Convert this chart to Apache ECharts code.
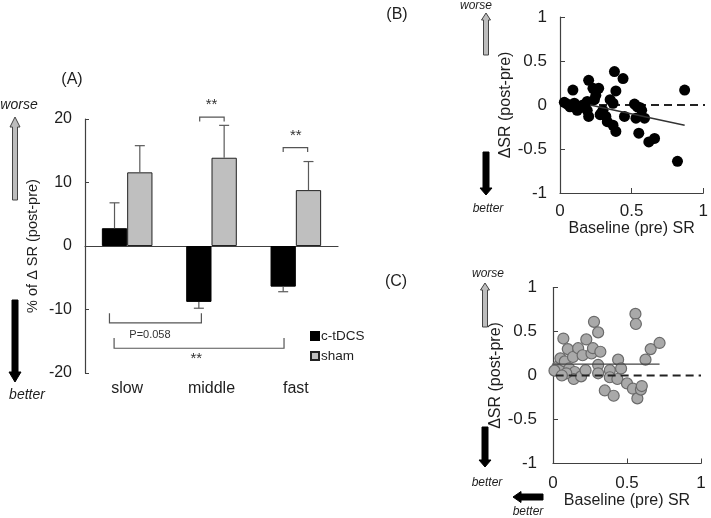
<!DOCTYPE html>
<html>
<head>
<meta charset="utf-8">
<script src="https://cdn.jsdelivr.net/npm/echarts@6/dist/echarts.min.js"></script>
<style>
  html, body { margin: 0; padding: 0; background: #fff; }
  #chart { width: 711px; height: 518px; }
</style>
</head>
<body>
<div id="chart"></div>
<script>
// Panel A: mean % change of SR per speed, c-tDCS vs sham
const categories = ['slow', 'middle', 'fast'];
const ctdcsMeans = [2.8, -8.8, -6.4];
const shamMeans = [11.6, 13.9, 8.8];
const ctdcsErrEnds = [6.8, -9.8, -7.2];
const shamErrEnds = [15.8, 19.0, 13.3];
const yTicksA = [-20, -10, 0, 10, 20];

// significance brackets (x in category units, y in axis values)
const brackets = [
  { from: 0.86, to: 1.15, tip: 19.6, level: 20.3, text: '**', textX: 1.0, textY: 22.2, size: 15 },
  { from: 1.85, to: 2.14, tip: 14.8, level: 15.5, text: '**', textX: 2.0, textY: 17.4, size: 15 },
  { from: -0.21, to: 0.88, tip: -10.6, level: -12.1, text: 'P=0.058', textX: 0.27, textY: -14.0, size: 11 },
  { from: -0.155, to: 1.86, tip: -14.5, level: -16.1, text: '**', textX: 0.82, textY: -17.8, size: 15 }
];

// Panel B: c-tDCS, baseline SR vs change
const bPoints = [
  [0.03, 0.03], [0.07, -0.02], [0.10, 0.02], [0.09, 0.17], [0.12, -0.06], [0.16, 0.0],
  [0.19, 0.04], [0.19, -0.06], [0.20, -0.13], [0.20, 0.28], [0.23, 0.19], [0.24, 0.06],
  [0.25, 0.11], [0.27, 0.19], [0.28, -0.11], [0.30, -0.06], [0.32, -0.13], [0.33, -0.19],
  [0.35, 0.06], [0.37, 0.02], [0.38, 0.38], [0.39, 0.16], [0.37, -0.23], [0.39, -0.30],
  [0.44, 0.30], [0.45, -0.13], [0.52, 0.01], [0.54, -0.02], [0.53, -0.15], [0.57, -0.06],
  [0.59, -0.15], [0.55, -0.32], [0.62, -0.42], [0.66, -0.38], [0.87, 0.17], [0.82, -0.64],
  [0.56, -0.03], [0.05, 0.01], [0.14, -0.03], [0.29, -0.09]
];
const bFit = [[0.21, 0.0], [0.87, -0.23]];
const bZero = [[0.0, 0], [1.02, 0]];

// Panel C: sham, baseline SR vs change
const cPoints = [
  [0.07, 0.42], [0.03, 0.10], [0.05, 0.195], [0.045, 0.06], [0.08, 0.16], [0.10, 0.30],
  [0.11, 0.08], [0.135, 0.21], [0.147, 0.04], [0.14, -0.04], [0.17, 0.31], [0.19, -0.01],
  [0.20, 0.23], [0.22, 0.06], [0.225, 0.41], [0.26, 0.25], [0.27, 0.31], [0.277, 0.61],
  [0.305, 0.49], [0.32, 0.27], [0.305, 0.12], [0.305, 0.025], [0.35, -0.17], [0.384, 0.06],
  [0.384, -0.02], [0.41, -0.23], [0.435, -0.04], [0.44, 0.18], [0.46, 0.08], [0.50, -0.09],
  [0.54, -0.15], [0.557, 0.70], [0.56, 0.585], [0.57, -0.26], [0.594, -0.16], [0.60, -0.12],
  [0.625, 0.18], [0.66, 0.30], [0.72, 0.37], [0.01, 0.055], [0.09, 0.025], [0.06, 0.0]
];
const cFit = [[0.0, 0.13], [0.72, 0.13]];
const cZero = [[-0.07, 0], [1.0, 0]];

const FONT = 'Liberation Sans';
const axisColor = '#404040';
const textColor = '#1e1e1e';

const chart = echarts.init(document.getElementById('chart'), null, { renderer: 'canvas' });

// flechas de "worse"/"better"
function vArrow(cx, tip, end, shaftW, headW, headH, fill, stroke) {
  const dir = end > tip ? 1 : -1;
  const base = tip + dir * headH;
  return {
    type: 'polygon',
    shape: { points: [
      [cx, tip], [cx + headW / 2, base], [cx + shaftW / 2, base], [cx + shaftW / 2, end],
      [cx - shaftW / 2, end], [cx - shaftW / 2, base], [cx - headW / 2, base]
    ] },
    style: { fill: fill, stroke: stroke, lineWidth: 1 }
  };
}
function hArrow(cy, tip, end, shaftH, headH, headW, fill) {
  const base = tip + headW;
  return {
    type: 'polygon',
    shape: { points: [
      [tip, cy], [base, cy - headH / 2], [base, cy - shaftH / 2], [end, cy - shaftH / 2],
      [end, cy + shaftH / 2], [base, cy + shaftH / 2], [base, cy + headH / 2]
    ] },
    style: { fill: fill, stroke: fill, lineWidth: 1 }
  };
}
function label(x, y, text, size, italic, align) {
  return {
    type: 'text', x: x, y: y,
    style: {
      text: text, fill: textColor, fontSize: size, fontFamily: FONT,
      fontStyle: italic ? 'italic' : 'normal', align: align || 'center', verticalAlign: 'middle'
    }
  };
}

const valueAxisStyle = {
  axisLine: { show: true, onZero: false, lineStyle: { color: axisColor, width: 1.2 } },
  axisTick: { show: true, inside: true, length: 5, lineStyle: { color: axisColor } },
  splitLine: { show: false },
  axisLabel: { color: textColor, fontSize: 17, fontFamily: FONT }
};

const option = {
  animation: false,
  backgroundColor: '#fff',
  grid: [
    { left: 85, top: 119, width: 253, height: 254 },
    { left: 560, top: 17, width: 148, height: 176 },
    { left: 553, top: 287.5, width: 148, height: 176 }
  ],
  legend: {
    left: 305, top: 324, orient: 'vertical', itemWidth: 8, itemHeight: 8, itemGap: 6,
    icon: 'rect',
    data: ['c-tDCS', 'sham'],
    textStyle: { color: textColor, fontSize: 13.5, fontFamily: FONT, padding: [0, 0, 0, -3] }
  },
  xAxis: [
    {
      gridIndex: 0, type: 'category', data: categories,
      axisLine: { onZero: true, lineStyle: { color: axisColor, width: 1.2 } },
      axisTick: { length: 4, lineStyle: { color: axisColor } },
      axisLabel: { show: false }
    },
    {
      gridIndex: 0, type: 'category', data: categories, position: 'bottom',
      axisLine: { show: false, onZero: false }, axisTick: { show: false },
      axisLabel: { margin: 8, color: textColor, fontSize: 16, fontFamily: FONT }
    },
    Object.assign({
      gridIndex: 1, type: 'value', min: 0, max: 1, interval: 0.5,
      name: 'Baseline (pre) SR', nameLocation: 'middle', nameGap: 19,
      nameTextStyle: { color: textColor, fontSize: 16, fontFamily: FONT }
    }, valueAxisStyle, { axisLabel: { margin: 10, color: textColor, fontSize: 17, fontFamily: FONT } }),
    Object.assign({
      gridIndex: 2, type: 'value', min: 0, max: 1, interval: 0.5,
      name: 'Baseline (pre) SR', nameLocation: 'middle', nameGap: 25,
      nameTextStyle: { color: textColor, fontSize: 16, fontFamily: FONT }
    }, valueAxisStyle, { axisLabel: { margin: 11, color: textColor, fontSize: 17, fontFamily: FONT } })
  ],
  yAxis: [
    {
      gridIndex: 0, type: 'value', min: yTicksA[0], max: yTicksA[yTicksA.length - 1], interval: 10,
      name: '% of Δ SR (post-pre)', nameLocation: 'middle', nameGap: 45,
      nameTextStyle: { color: textColor, fontSize: 14.5, fontFamily: FONT },
      axisLine: { show: true, lineStyle: { color: axisColor, width: 1.2 } },
      axisTick: { show: true, inside: true, length: 4, lineStyle: { color: axisColor } },
      splitLine: { show: false },
      axisLabel: { margin: 13, color: textColor, fontSize: 16, fontFamily: FONT }
    },
    Object.assign({
      gridIndex: 1, type: 'value', min: -1, max: 1, interval: 0.5,
      name: 'ΔSR (post-pre)', nameLocation: 'middle', nameGap: 31,
      nameTextStyle: { color: textColor, fontSize: 16, fontFamily: FONT }
    }, valueAxisStyle, { axisLabel: { margin: 13, color: textColor, fontSize: 17, fontFamily: FONT } }),
    Object.assign({
      gridIndex: 2, type: 'value', min: -1, max: 1, interval: 0.5,
      name: 'ΔSR (post-pre)', nameLocation: 'middle', nameGap: 25,
      nameTextStyle: { color: textColor, fontSize: 16, fontFamily: FONT }
    }, valueAxisStyle, { axisLabel: { margin: 16, color: textColor, fontSize: 17, fontFamily: FONT } })
  ],
  series: [
    {
      name: 'c-tDCS', type: 'bar', xAxisIndex: 0, yAxisIndex: 0, data: ctdcsMeans,
      barWidth: '30%', barGap: '0%',
      itemStyle: { color: '#000', borderColor: '#000', borderWidth: 1 }
    },
    {
      name: 'sham', type: 'bar', xAxisIndex: 0, yAxisIndex: 0, data: shamMeans,
      barWidth: '30%', barGap: '0%',
      itemStyle: { color: '#bfbfbf', borderColor: '#222', borderWidth: 1 }
    },
    {
      // barras de error (solo hacia fuera de la barra)
      type: 'custom', xAxisIndex: 0, yAxisIndex: 0, z: 3, clip: false,
      data: categories.flatMap((c, i) => [
        [i, ctdcsMeans[i], ctdcsErrEnds[i], -1],
        [i, shamMeans[i], shamErrEnds[i], 1]
      ]),
      renderItem: function (params, api) {
        const band = api.size([1, 0])[0];
        const cx = api.coord([api.value(0), 0])[0] + api.value(3) * band * 0.15;
        const y1 = api.coord([api.value(0), api.value(1)])[1];
        const y2 = api.coord([api.value(0), api.value(2)])[1];
        const st = { stroke: '#5a5a5a', lineWidth: 1.2 };
        return {
          type: 'group', children: [
            { type: 'line', shape: { x1: cx, y1: y1, x2: cx, y2: y2 }, style: st },
            { type: 'line', shape: { x1: cx - 5, y1: y2, x2: cx + 5, y2: y2 }, style: st }
          ]
        };
      }
    },
    {
      // corchetes de significancia
      type: 'custom', xAxisIndex: 0, yAxisIndex: 0, z: 3, clip: false, silent: true,
      data: brackets.map(b => [0, b.level]),
      renderItem: function (params, api) {
        const b = brackets[params.dataIndex];
        const band = api.size([1, 0])[0];
        const x0 = api.coord([0, 0])[0];
        const px = v => x0 + v * band;
        const py = v => api.coord([0, v])[1];
        const st = { stroke: '#555', lineWidth: 1.2, fill: null };
        return {
          type: 'group', children: [
            { type: 'polyline', shape: { points: [[px(b.from), py(b.tip)], [px(b.from), py(b.level)], [px(b.to), py(b.level)], [px(b.to), py(b.tip)]] }, style: st },
            { type: 'text', x: px(b.textX), y: py(b.textY), style: { text: b.text, fill: '#333', fontSize: b.size, fontFamily: FONT, align: 'center', verticalAlign: 'middle' } }
          ]
        };
      }
    },
    {
      type: 'scatter', xAxisIndex: 2, yAxisIndex: 1, data: bPoints, symbolSize: 11,
      itemStyle: { color: '#000', opacity: 1 }, z: 2
    },
    {
      type: 'line', xAxisIndex: 2, yAxisIndex: 1, data: bZero, symbol: 'none', clip: false, z: 1,
      lineStyle: { color: '#222', width: 2, type: [8, 5] }
    },
    {
      type: 'line', xAxisIndex: 2, yAxisIndex: 1, data: bFit, symbol: 'none', z: 4,
      lineStyle: { color: '#333', width: 1.3 }
    },
    {
      type: 'scatter', xAxisIndex: 3, yAxisIndex: 2, data: cPoints, symbolSize: 11,
      itemStyle: { color: '#a9a9a9', borderColor: '#6a6a6a', borderWidth: 1.2, opacity: 1 }, z: 2
    },
    {
      type: 'line', xAxisIndex: 3, yAxisIndex: 2, data: cZero, symbol: 'none', clip: false, z: 3,
      lineStyle: { color: '#222', width: 2, type: [8, 5] }
    },
    {
      type: 'line', xAxisIndex: 3, yAxisIndex: 2, data: cFit, symbol: 'none', z: 4,
      lineStyle: { color: '#444', width: 1.3 }
    }
  ],
  graphic: [
    label(72, 80, '(A)', 16, false),
    label(397, 15, '(B)', 16, false),
    label(396, 282, '(C)', 16, false),
    // panel A
    label(19, 105, 'worse', 14, true),
    vArrow(15, 117, 200, 5, 10, 10, '#bdbdbd', '#444'),
    vArrow(15, 382, 300, 6, 12, 10, '#000', '#000'),
    label(27, 395, 'better', 14, true),
    // panel B
    label(476, 6, 'worse', 12, true),
    vArrow(486, 13, 55, 5, 9, 7, '#bdbdbd', '#444'),
    vArrow(486, 195, 152, 6, 12, 7, '#000', '#000'),
    label(488, 209, 'better', 12, true),
    // panel C
    label(488, 274, 'worse', 12, true),
    vArrow(485, 283, 327, 5, 9, 7, '#bdbdbd', '#444'),
    vArrow(485, 467, 427, 6, 12, 7, '#000', '#000'),
    label(487, 483, 'better', 12, true),
    hArrow(497, 513, 543, 6, 11, 8, '#000'),
    label(528, 512, 'better', 12, true)
  ]
};

chart.setOption(option);
</script>
</body>
</html>
